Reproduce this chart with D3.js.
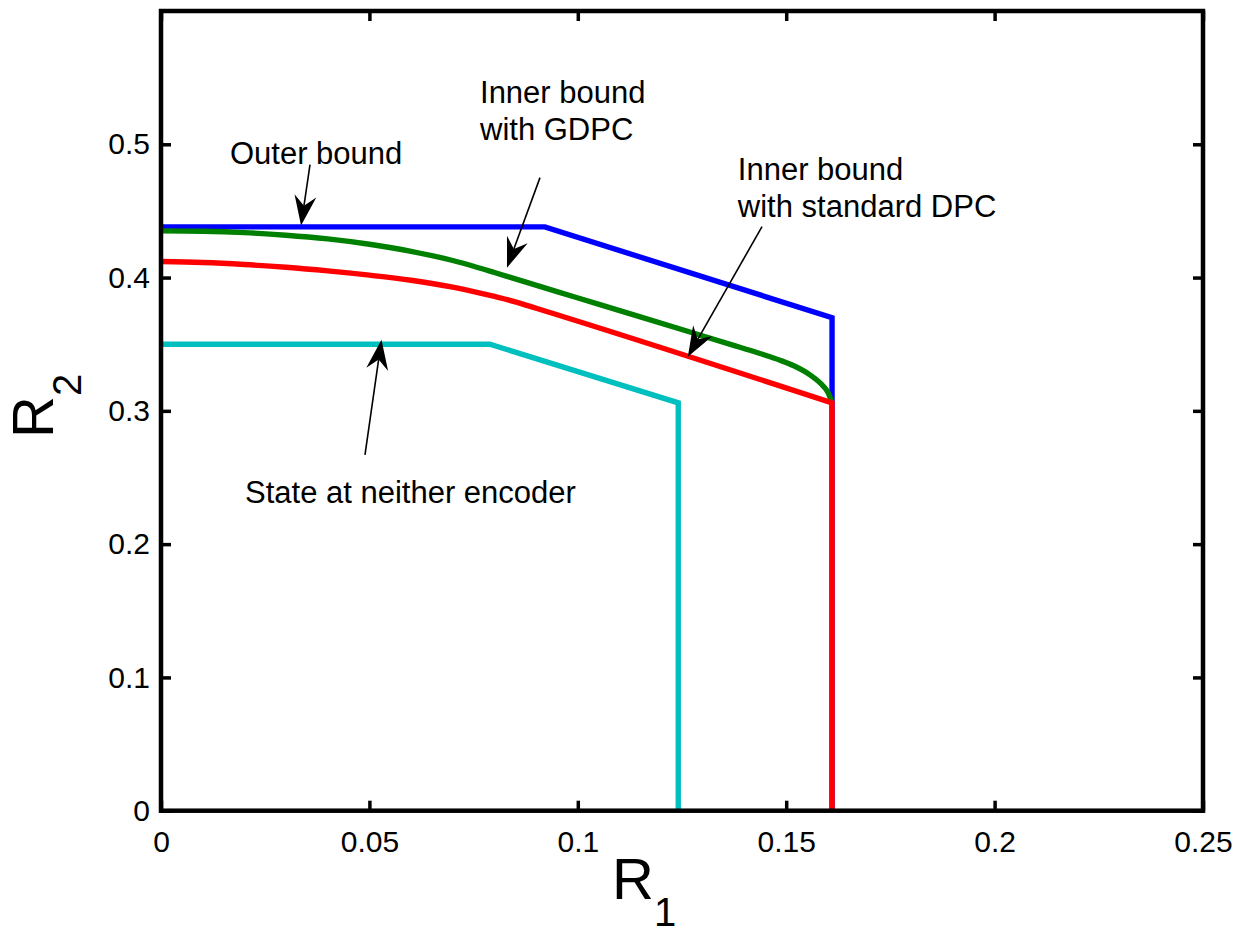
<!DOCTYPE html>
<html>
<head>
<meta charset="utf-8">
<script src="https://cdn.jsdelivr.net/npm/d3@7"></script>
<style>
  html, body { margin: 0; padding: 0; background: #fff; }
  svg { display: block; }
  text { font-family: "Liberation Sans", Arial, Helvetica, sans-serif; fill: #000; }
</style>
</head>
<body>
<svg id="chart" width="1238" height="935"></svg>
<script>
// ---------------- data ----------------
const xTicks = [0, 0.05, 0.1, 0.15, 0.2, 0.25];
const yTicks = [0, 0.1, 0.2, 0.3, 0.4, 0.5];
const xTickLabels = ["0", "0.05", "0.1", "0.15", "0.2", "0.25"];
const yTickLabels = ["0", "0.1", "0.2", "0.3", "0.4", "0.5"];

// Outer bound (blue)
const outerX = [0, 0.0921, 0.161, 0.161];
const outerY = [0.438, 0.438, 0.3699, 0];

// Inner bound with GDPC (green)
const gdpcX = [0, 0.01, 0.02, 0.03, 0.04, 0.05, 0.06, 0.07, 0.075, 0.08, 0.085, 0.095, 0.1053, 0.115, 0.1277, 0.137, 0.1437, 0.1485, 0.1517, 0.1557, 0.1589, 0.1600, 0.161];
const gdpcY = [0.435, 0.4347, 0.4337, 0.4318, 0.4290, 0.4250, 0.4197, 0.4128, 0.4085, 0.4038, 0.3990, 0.3895, 0.3797, 0.3705, 0.3584, 0.3495, 0.3430, 0.3380, 0.3340, 0.3270, 0.3185, 0.3140, 0.306];

// Inner bound with standard DPC (red)
const dpcX = [0, 0.01, 0.02, 0.03, 0.04, 0.05, 0.06, 0.07, 0.075, 0.08, 0.085, 0.09, 0.161, 0.161];
const dpcY = [0.412, 0.4113, 0.4098, 0.4077, 0.4050, 0.4018, 0.3980, 0.3928, 0.3895, 0.3858, 0.3818, 0.377, 0.306, 0];

// State at neither encoder (cyan)
const neitherX = [0, 0.0789, 0.1241, 0.1241];
const neitherY = [0.35, 0.35, 0.306, 0];

const seriesNames = ["Outer bound", "Inner bound with GDPC", "Inner bound with standard DPC", "State at neither encoder"];
const seriesColors = ["#0000ff", "#008000", "#ff0000", "#00bfbf"];
const seriesSmooth = [false, true, true, false];

// annotations: text lines, text anchor point (data), arrow tail and tip (data)
const annoLines = [["Outer bound"], ["Inner bound", "with GDPC"], ["Inner bound", "with standard DPC"], ["State at neither encoder"]];
const annoTextX = [0.01655, 0.07654, 0.1384, 0.02015];
const annoTextY = [0.4855, 0.5313, 0.4735, 0.2310];
const arrowTailX = [0.03575, 0.09093, 0.1442, 0.04894];
const arrowTailY = [0.4848, 0.4750, 0.4382, 0.2670];
const arrowTipX = [0.0336, 0.08301, 0.1264, 0.0529];
const arrowTipY = [0.4390, 0.4074, 0.3406, 0.3534];

// ---------------- layout ----------------
const svg = d3.select("#chart");
const mLeft = 161, mRight = 1203, mTop = 11, mBottom = 810.7;
const x = d3.scaleLinear().domain([0, 0.25]).range([mLeft, mRight]);
const y = d3.scaleLinear().domain([0, 0.6]).range([mBottom, mTop]);

const tickLen = 10;
const tickFont = 30;

// axes (ticks inward)
const gx = svg.append("g").attr("transform", `translate(0,${mBottom})`)
  .call(d3.axisBottom(x).tickValues(xTicks).tickFormat((d, i) => xTickLabels[i]).tickSizeInner(-tickLen).tickSizeOuter(0).tickPadding(20));
const gxTop = svg.append("g").attr("transform", `translate(0,${mTop})`)
  .call(d3.axisTop(x).tickValues(xTicks).tickFormat("").tickSizeInner(-tickLen).tickSizeOuter(0));
const gy = svg.append("g").attr("transform", `translate(${mLeft},0)`)
  .call(d3.axisLeft(y).tickValues(yTicks).tickFormat((d, i) => yTickLabels[i]).tickSizeInner(-tickLen).tickSizeOuter(0).tickPadding(11));
const gyRight = svg.append("g").attr("transform", `translate(${mRight},0)`)
  .call(d3.axisRight(y).tickValues(yTicks).tickFormat("").tickSizeInner(-tickLen).tickSizeOuter(0));

[gx, gxTop, gy, gyRight].forEach(g => {
  g.select(".domain").remove();
  g.selectAll(".tick line").attr("stroke", "#000").attr("stroke-width", 3.5);
  g.selectAll(".tick text").attr("font-size", tickFont).attr("font-family", '"Liberation Sans", Arial, sans-serif').attr("fill", "#000");
});
gx.selectAll(".tick text").attr("dy", "0.71em");

// series
const allX = [outerX, gdpcX, dpcX, neitherX];
const allY = [outerY, gdpcY, dpcY, neitherY];
const straight = d3.line().x(d => x(d[0])).y(d => y(d[1]));
const smooth = d3.line().x(d => x(d[0])).y(d => y(d[1])).curve(d3.curveMonotoneX);
allX.forEach((xs, i) => {
  const pts = xs.map((v, j) => [v, allY[i][j]]);
  let d;
  if (seriesSmooth[i]) {
    let k = pts.length;
    while (k > 1 && pts[k - 1][0] === pts[k - 2][0]) k--;
    d = smooth(pts.slice(0, k));
    if (k < pts.length) d += pts.slice(k).map(p => "L" + x(p[0]) + "," + y(p[1])).join("");
  } else {
    d = straight(pts);
  }
  svg.append("path")
    .attr("d", d)
    .attr("fill", "none")
    .attr("stroke", seriesColors[i])
    .attr("stroke-width", 5.4)
    .attr("stroke-linejoin", "miter")
    .attr("data-name", seriesNames[i]);
});

// frame
svg.append("rect")
  .attr("x", mLeft).attr("y", mTop)
  .attr("width", mRight - mLeft).attr("height", mBottom - mTop)
  .attr("fill", "none").attr("stroke", "#000").attr("stroke-width", 4.5);

// annotations
const annoFont = 31;
const lineGap = 37;
annoLines.forEach((lines, i) => {
  const t = svg.append("text")
    .attr("x", x(annoTextX[i]))
    .attr("y", y(annoTextY[i]))
    .attr("font-size", annoFont);
  lines.forEach((s, k) => {
    t.append("tspan").attr("x", x(annoTextX[i])).attr("dy", k === 0 ? 0 : lineGap).text(s);
  });

  const x0 = x(arrowTailX[i]), y0 = y(arrowTailY[i]);
  const x1 = x(arrowTipX[i]), y1 = y(arrowTipY[i]);
  const dx = x1 - x0, dy = y1 - y0, len = Math.hypot(dx, dy);
  const ux = dx / len, uy = dy / len, px = -uy, py = ux;
  const L = 30, N = 20, W = 11;
  svg.append("line")
    .attr("x1", x0).attr("y1", y0)
    .attr("x2", x1 - ux * N).attr("y2", y1 - uy * N)
    .attr("stroke", "#000").attr("stroke-width", 1.6);
  const pth = [
    [x1, y1],
    [x1 - ux * L + px * W, y1 - uy * L + py * W],
    [x1 - ux * N, y1 - uy * N],
    [x1 - ux * L - px * W, y1 - uy * L - py * W]
  ];
  svg.append("path").attr("d", "M" + pth.map(p => p.join(",")).join("L") + "Z").attr("fill", "#000");
});

// axis labels
svg.append("text").attr("x", 612).attr("y", 899).attr("font-size", 58)
  .call(t => {
    t.append("tspan").text("R");
    t.append("tspan").attr("font-size", 40).attr("dy", 27).text("1");
  });
svg.append("text").attr("transform", "translate(53,438) rotate(-90)").attr("font-size", 58)
  .call(t => {
    t.append("tspan").text("R");
    t.append("tspan").attr("font-size", 40).attr("dy", 28).text("2");
  });
</script>
</body>
</html>
